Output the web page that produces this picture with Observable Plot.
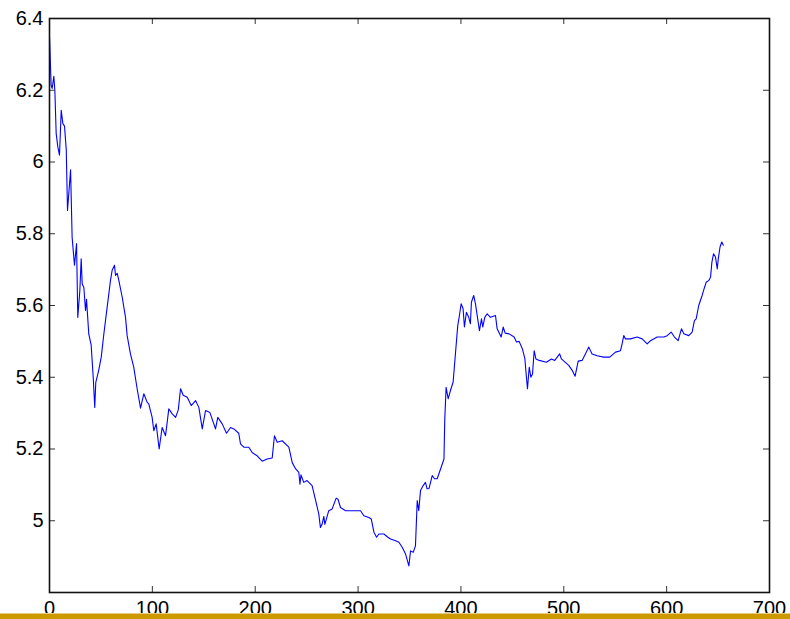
<!DOCTYPE html>
<html>
<head>
<meta charset="utf-8">
<script src="https://cdn.jsdelivr.net/npm/d3@7"></script>
<script src="https://cdn.jsdelivr.net/npm/@observablehq/plot@0.6"></script>
<style>
  html, body { margin: 0; padding: 0; background: #ffffff; }
  #wrap { position: relative; width: 790px; height: 619px; overflow: hidden; }
  #bar { position: absolute; left: 0; top: 614px; width: 790px; height: 5px; background: #cc9900; }
  #barEdge { position: absolute; left: 0; top: 613px; width: 790px; height: 1px; background: #e6cc80; }
</style>
</head>
<body>
<div id="wrap"><div id="chart"></div><div id="barEdge"></div><div id="bar"></div></div>
<script>
const xs = [0,1.6,2.6,4.2,5.2,6.5,8.1,9.7,11.4,13,14.6,16.3,17.5,20.5,22,24.3,26.3,27.5,29.5,30.8,31.8,33.4,35,36,38.2,40.5,42.5,44,45,47.9,50.3,52.8,55.4,59.3,60.9,63.2,64.2,65.8,67.4,70.7,73.9,75.5,78.7,81.9,85.2,88.5,91.7,95,96.5,99.8,101.4,103.7,106.6,109.5,112.8,116,119.3,122.6,125.2,127.4,130,133.9,137.8,142,145.2,148.5,151.7,155.9,161.4,163.6,167.9,172.1,176,179.2,184,185.7,188.9,193.8,197,201.9,206.8,211.6,216.5,218.7,221.4,226.2,232.7,236,239.2,242.4,243.5,244.5,247.2,250.4,255.3,258.6,261.8,263.4,265,266.7,267.7,271.5,274.8,278.7,280.5,282.9,287.8,292.6,297.5,302.4,305.6,310.5,312.8,315.4,318,320.2,325.1,329,331.6,336.5,339.7,342.9,346.2,349.4,351,353.6,355.8,357.5,359,360.7,363.3,365.5,367.1,369,372.1,374.3,376.9,380.8,383.5,384.3,385.6,387.6,389.8,392.4,396.9,398.8,400.2,402.1,403.4,405.3,407.6,409.2,410.2,412.4,414.1,418,420,421.2,423.2,425.5,428.7,433.6,435.2,439.1,441.1,443,446.9,451.7,454,456.6,459.8,462.2,463.1,464.7,466.4,468,469.6,471.2,472.9,476.1,483.1,488,491.2,496,497.7,504.8,508,511,514,517.8,521,524.3,527.5,532.4,538.8,544.7,550.3,555.1,556.7,558.3,560,564.8,571.3,576.2,581.1,584.3,590.8,597.3,600.5,604.4,607.6,611.2,614.4,616.7,621.5,624.8,627,628.7,631.2,634.5,636.9,638.5,641,642.7,644,645.6,647.5,649.2,650.2,651.9,653.6,655.1];
const ys = [6.35,6.214,6.205,6.239,6.20,6.079,6.042,6.019,6.144,6.107,6.10,6.033,5.865,5.978,5.79,5.712,5.773,5.567,5.642,5.73,5.66,5.65,5.586,5.617,5.52,5.49,5.40,5.316,5.386,5.42,5.456,5.52,5.58,5.67,5.698,5.712,5.684,5.69,5.67,5.623,5.567,5.516,5.465,5.428,5.368,5.314,5.354,5.33,5.326,5.288,5.251,5.27,5.20,5.26,5.237,5.312,5.298,5.288,5.309,5.368,5.35,5.344,5.321,5.335,5.316,5.256,5.307,5.302,5.256,5.288,5.27,5.244,5.26,5.256,5.244,5.214,5.205,5.205,5.19,5.181,5.166,5.172,5.175,5.237,5.219,5.223,5.205,5.162,5.145,5.135,5.102,5.128,5.107,5.112,5.098,5.058,5.019,4.981,4.99,5.012,4.99,5.028,5.033,5.063,5.06,5.037,5.028,5.028,5.028,5.028,5.014,5.009,5.005,4.968,4.954,4.963,4.963,4.954,4.949,4.944,4.94,4.926,4.907,4.874,4.916,4.912,4.93,5.056,5.028,5.084,5.098,5.107,5.089,5.09,5.126,5.117,5.117,5.149,5.172,5.284,5.372,5.34,5.363,5.386,5.544,5.577,5.605,5.591,5.54,5.581,5.567,5.549,5.609,5.628,5.605,5.53,5.563,5.54,5.567,5.577,5.567,5.572,5.535,5.512,5.54,5.523,5.521,5.512,5.498,5.5,5.479,5.451,5.419,5.368,5.428,5.40,5.409,5.474,5.451,5.447,5.442,5.451,5.447,5.465,5.451,5.433,5.42,5.403,5.445,5.447,5.465,5.484,5.465,5.46,5.456,5.456,5.47,5.474,5.493,5.516,5.507,5.507,5.512,5.507,5.493,5.502,5.512,5.512,5.516,5.526,5.512,5.502,5.535,5.521,5.516,5.526,5.558,5.563,5.60,5.628,5.651,5.665,5.67,5.679,5.721,5.744,5.735,5.702,5.73,5.763,5.777,5.768];
const xTicks = [0,100,200,300,400,500,600,700];
const yTicks = [5,5.2,5.4,5.6,5.8,6,6.2,6.4];
const yTickLabels = ["5","5.2","5.4","5.6","5.8","6","6.2","6.4"];

const data = xs.map((x, i) => ({x, y: ys[i]}));
const plotW = 790 - 49 - 21;
const plotH = 619 - 18 - 27;
const tk = 6;

const chart = Plot.plot({
  width: 790,
  height: 619,
  marginLeft: 49,
  marginRight: 21,
  marginTop: 18,
  marginBottom: 27,
  x: {domain: [0, 700], label: null},
  y: {domain: [4.8, 6.4], label: null},
  style: {fontFamily: "'Liberation Sans', Arial, sans-serif", fontSize: "20px", background: "#ffffff", color: "#000000", overflow: "visible"},
  marks: [
    Plot.line(data, {x: "x", y: "y", stroke: "#0000ff", strokeWidth: 1.1}),
    Plot.tickX(xTicks, {x: d => d, insetTop: plotH - tk, stroke: "#333333", strokeWidth: 1}),
    Plot.tickX(xTicks, {x: d => d, insetBottom: plotH - tk, stroke: "#333333", strokeWidth: 1}),
    Plot.tickY(yTicks, {y: d => d, insetRight: plotW - tk, stroke: "#333333", strokeWidth: 1}),
    Plot.tickY(yTicks, {y: d => d, insetLeft: plotW - tk, stroke: "#333333", strokeWidth: 1}),
    Plot.frame({stroke: "#111111", strokeWidth: 1.6}),
    Plot.axisX(xTicks, {anchor: "bottom", tickSize: 0, tickPadding: 8, fontSize: 20, label: null}),
    Plot.axisY(yTicks, {anchor: "left", tickSize: 0, tickPadding: 6, fontSize: 20, label: null,
      tickFormat: d => yTickLabels[yTicks.indexOf(d)]})
  ]
});
document.getElementById("chart").appendChild(chart);
</script>
</body>
</html>
